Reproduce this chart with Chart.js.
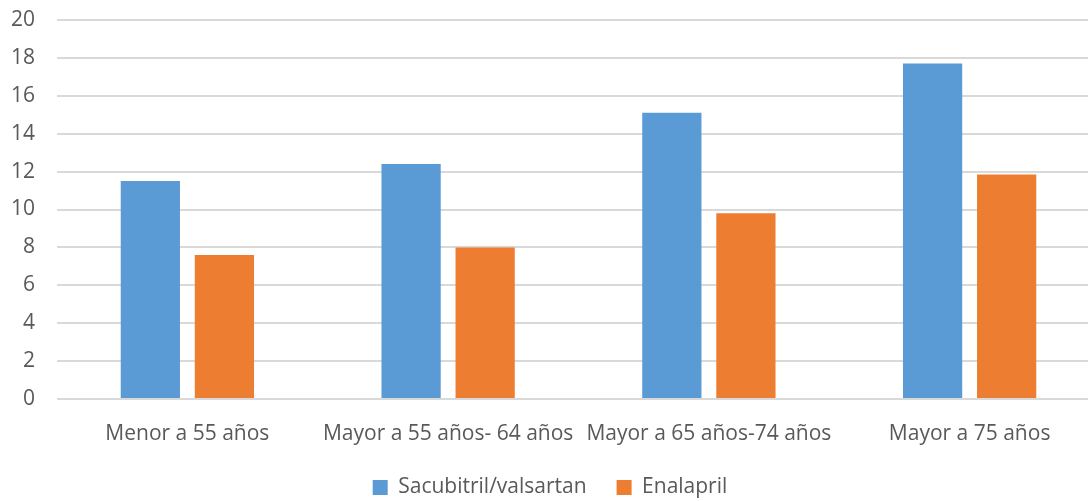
<!DOCTYPE html>
<html>
<head>
<meta charset="utf-8">
<script src="https://cdn.jsdelivr.net/npm/chart.js@4"></script>
<style>
  html, body { margin: 0; padding: 0; background: #fff; }
  #wrap { width: 1088px; height: 501px; overflow: hidden; }
</style>
</head>
<body>
<!-- the original plot runs a little past the right edge, so the canvas is wider and clipped -->
<div id="wrap"><canvas id="chart" width="1100" height="501"></canvas></div>
<script>
const categories = ['Menor a 55 años', 'Mayor a 55 años- 64 años', 'Mayor a 65 años-74 años', 'Mayor a 75 años'];
const sacubitril = [11.5, 12.4, 15.1, 17.7];
const enalapril = [7.6, 8.0, 9.8, 11.85];
const yTicks = [0, 2, 4, 6, 8, 10, 12, 14, 16, 18, 20];

const font = { family: "'Open Sans', 'Noto Sans', sans-serif", size: 21 };

// keep the legend short so its items sit close to the bottom edge
const legendHeight = {
  id: 'legendHeight',
  beforeLayout(chart) {
    const lg = chart.legend;
    if (lg && !lg._patched) {
      const fit = lg.fit;
      lg.fit = function () { fit.call(this); this.height = 54; };
      lg._patched = true;
    }
  }
};

new Chart(document.getElementById('chart'), {
  type: 'bar',
  data: {
    labels: categories,
    datasets: [{
      label: 'Sacubitril/valsartan',
      data: sacubitril,
      backgroundColor: '#5B9BD5',
      categoryPercentage: 0.568,
      barPercentage: 0.8
    }, {
      label: 'Enalapril',
      data: enalapril,
      backgroundColor: '#ED7D31',
      categoryPercentage: 0.568,
      barPercentage: 0.8
    }]
  },
  plugins: [legendHeight],
  options: {
    responsive: false,
    animation: false,
    layout: { padding: { top: 20, right: 0, left: 0, bottom: 0 } },
    plugins: {
      tooltip: { enabled: false },
      legend: {
        position: 'bottom',
        labels: {
          font: font,
          color: '#595959',
          boxWidth: 15,
          boxHeight: 15,
          padding: 30
        }
      }
    },
    scales: {
      x: {
        grid: { display: false },
        border: { display: false },
        ticks: { font: font, color: '#595959', padding: 14, maxRotation: 0, autoSkip: false },
        afterFit: s => { s.height = 48; s.paddingTop = 0; s.paddingBottom = 0; }
      },
      y: {
        min: 0,
        max: 20,
        afterBuildTicks: s => { s.ticks = yTicks.map(v => ({ value: v })); },
        grid: { color: '#d9d9d9', lineWidth: 2, drawTicks: false },
        border: { display: false },
        ticks: { font: font, color: '#595959', padding: 22 },
        afterFit: s => { s.width = 57; s.paddingTop = 0; s.paddingBottom = 0; }
      }
    }
  }
});
</script>
</body>
</html>
